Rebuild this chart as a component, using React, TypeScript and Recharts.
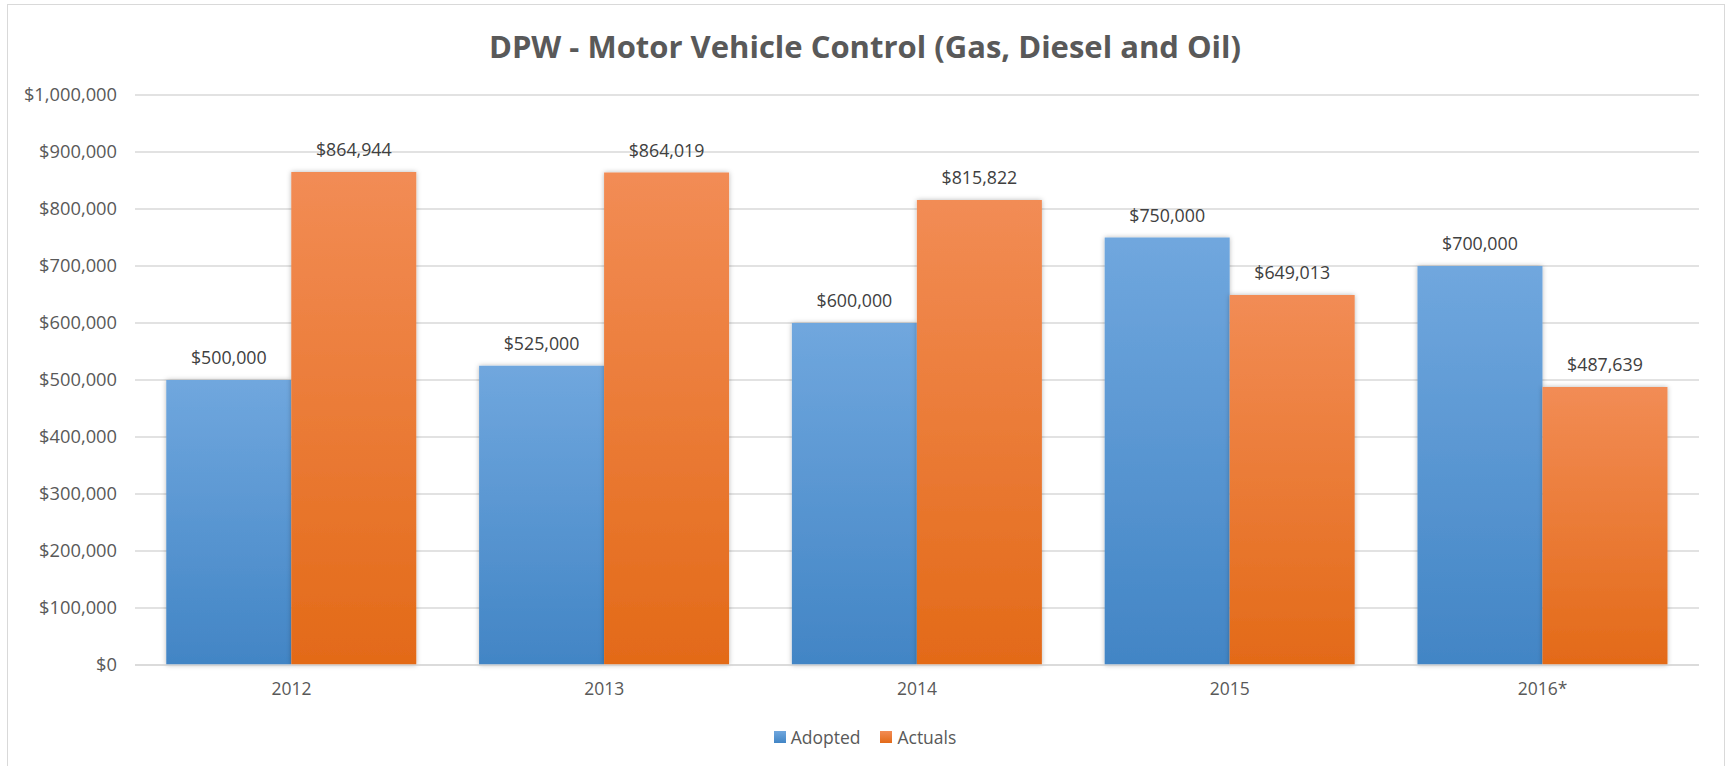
import { BarChart, Bar, XAxis, YAxis, CartesianGrid, LabelList } from "recharts";

const years = ["2012", "2013", "2014", "2015", "2016*"];
const adopted = [500000, 525000, 600000, 750000, 700000];
const actuals = [864944, 864019, 815822, 649013, 487639];
const yTicks = [0, 100000, 200000, 300000, 400000, 500000, 600000, 700000, 800000, 900000, 1000000];

const data = years.map((y, i) => ({ year: y, Adopted: adopted[i], Actuals: actuals[i] }));

const FONT = "'Open Sans', sans-serif";
const money = (v: number) => "$" + v.toLocaleString("en-US");

function LegendBox() {
  const items = [
    { name: "Adopted", fill: "url(#gBlue)" },
    { name: "Actuals", fill: "url(#gOrange)" },
  ];
  return (
    <div style={{ position: "absolute", top: 725, left: 0, width: 1730, display: "flex", justifyContent: "center", gap: 20, fontFamily: FONT, fontSize: 17.5, color: "#595959" }}>
      {items.map(it => (
        <div key={it.name} style={{ display: "flex", alignItems: "center", gap: 5 }}>
          <svg width={12} height={12}><rect width={12} height={12} fill={it.fill} /></svg>
          <span>{it.name}</span>
        </div>
      ))}
    </div>
  );
}

export default function App() {
  return (
    <div style={{ position: "absolute", left: 0, top: 0, width: 1730, height: 766, background: "#fff", overflow: "hidden" }}>
      <div style={{ position: "absolute", left: 7, top: 4, width: 1716, height: 780, border: "1.5px solid #d9d9d9" }} />
      <div style={{ position: "absolute", top: 25, left: 0, width: 1730, textAlign: "center", fontFamily: FONT, fontWeight: 700, fontSize: 31, color: "#595959" }}>
        DPW - Motor Vehicle Control (Gas, Diesel and Oil)
      </div>
      <BarChart width={1730} height={766} data={data} margin={{ top: 95, right: 31, bottom: 71, left: 0 }}
        barCategoryGap="10%" barGap={0} style={{ position: "absolute", left: 0, top: 0 }}>
        <defs>
          <linearGradient id="gBlue" x1="0" y1="0" x2="0" y2="1">
            <stop offset="0%" stopColor="#70a7de" />
            <stop offset="100%" stopColor="#4285c5" />
          </linearGradient>
          <linearGradient id="gOrange" x1="0" y1="0" x2="0" y2="1">
            <stop offset="0%" stopColor="#f28c55" />
            <stop offset="100%" stopColor="#e36a18" />
          </linearGradient>
          <filter id="shadow" x="-10%" y="-5%" width="120%" height="110%">
            <feDropShadow dx="0" dy="0" stdDeviation="2.5" floodColor="#000" floodOpacity="0.28" />
          </filter>
        </defs>
        <CartesianGrid vertical={false} stroke="#d9d9d9" strokeWidth={1.5} />
        <XAxis dataKey="year" height={30} tickLine={false} axisLine={{ stroke: "#d9d9d9", strokeWidth: 1.5 }}
          tick={{ fill: "#595959", fontSize: 17.5, fontFamily: FONT }} tickMargin={12} />
        <YAxis width={135} domain={[0, 1000000]} ticks={yTicks} interval={0} tickLine={false} axisLine={false}
          tickSize={0} tickMargin={18} tickFormatter={money}
          tick={{ fill: "#595959", fontSize: 18.3, fontFamily: FONT }} />
        <Bar dataKey="Adopted" fill="url(#gBlue)" filter="url(#shadow)" isAnimationActive={false}>
          <LabelList dataKey="Adopted" position="top" offset={16} formatter={(v: any) => money(Number(v))}
            style={{ fill: "#404040", fontSize: 17.8, fontFamily: FONT }} />
        </Bar>
        <Bar dataKey="Actuals" fill="url(#gOrange)" filter="url(#shadow)" isAnimationActive={false}>
          <LabelList dataKey="Actuals" position="top" offset={16} formatter={(v: any) => money(Number(v))}
            style={{ fill: "#404040", fontSize: 17.8, fontFamily: FONT }} />
        </Bar>
      </BarChart>
      <LegendBox />
    </div>
  );
}
